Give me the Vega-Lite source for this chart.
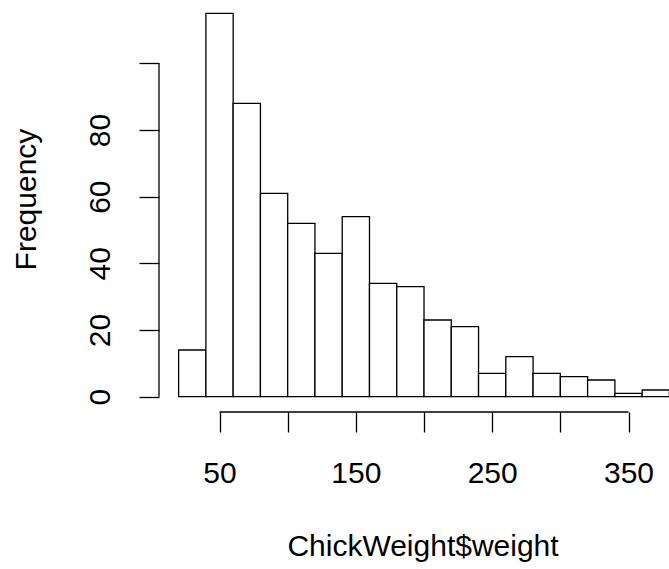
{
  "$schema": "https://vega.github.io/schema/vega-lite/v6.json",
  "width": 510,
  "height": 412,
  "autosize": "none",
  "padding": {"left": 159, "top": 0, "right": 0, "bottom": 157},
  "background": "white",
  "config": {"view": {"stroke": null}, "font": "Liberation Sans"},
  "layer": [
    {
      "data": {"values": [
        {"start": 20, "end": 40, "count": 14},
        {"start": 40, "end": 60, "count": 115},
        {"start": 60, "end": 80, "count": 88},
        {"start": 80, "end": 100, "count": 61},
        {"start": 100, "end": 120, "count": 52},
        {"start": 120, "end": 140, "count": 43},
        {"start": 140, "end": 160, "count": 54},
        {"start": 160, "end": 180, "count": 34},
        {"start": 180, "end": 200, "count": 33},
        {"start": 200, "end": 220, "count": 23},
        {"start": 220, "end": 240, "count": 21},
        {"start": 240, "end": 260, "count": 7},
        {"start": 260, "end": 280, "count": 12},
        {"start": 280, "end": 300, "count": 7},
        {"start": 300, "end": 320, "count": 6},
        {"start": 320, "end": 340, "count": 5},
        {"start": 340, "end": 360, "count": 1},
        {"start": 360, "end": 380, "count": 2}
      ]},
      "mark": {"type": "bar", "fill": "white", "stroke": "black", "strokeWidth": 1.3},
      "encoding": {
        "x": {
          "field": "start", "type": "quantitative",
          "scale": {"domain": [5.6, 379.7], "nice": false, "zero": false},
          "axis": {
            "values": [50, 100, 150, 200, 250, 300, 350],
            "domain": false, "grid": false,
            "tickSize": 20, "tickWidth": 1.3, "tickColor": "black",
            "labelExpr": "(datum.value - 50) % 100 == 0 ? datum.label : ''",
            "labelFont": "Liberation Sans", "labelFontSize": 30, "labelColor": "black",
            "labelBaseline": "alphabetic", "labelPadding": 50,
            "labelFlush": false, "labelOverlap": false,
            "title": "ChickWeight$weight",
            "titleFont": "Liberation Sans", "titleFontSize": 30, "titleFontWeight": "normal", "titleColor": "black",
            "titleX": 263.5, "titleY": 143, "titleAlign": "center", "titleBaseline": "alphabetic"
          }
        },
        "x2": {"field": "end"},
        "y": {
          "field": "count", "type": "quantitative",
          "scale": {"domain": [-4.6, 119], "nice": false, "zero": false},
          "axis": {
            "values": [0, 20, 40, 60, 80, 100],
            "domain": false, "grid": false,
            "tickSize": 20, "tickWidth": 1.3, "tickColor": "black",
            "labelExpr": "datum.value == 100 ? '' : datum.label",
            "labelFont": "Liberation Sans", "labelFontSize": 30, "labelColor": "black",
            "labelAngle": -90, "labelAlign": "center", "labelBaseline": "alphabetic", "labelPadding": 30,
            "labelFlush": false, "labelOverlap": false,
            "title": "Frequency",
            "titleFont": "Liberation Sans", "titleFontSize": 30, "titleFontWeight": "normal", "titleColor": "black",
            "titleAngle": -90, "titleX": -123.5, "titleY": 199, "titleAlign": "center", "titleBaseline": "alphabetic"
          }
        },
        "y2": {"datum": 0}
      }
    },
    {
      "data": {"values": [{}]},
      "mark": {"type": "rule", "stroke": "black", "strokeWidth": 1.3, "clip": false},
      "encoding": {"x": {"datum": 50}, "x2": {"datum": 350}, "y": {"datum": -4.6}}
    },
    {
      "data": {"values": [{}]},
      "mark": {"type": "rule", "stroke": "black", "strokeWidth": 1.3, "clip": false},
      "encoding": {"x": {"datum": 5.6}, "y": {"datum": 0}, "y2": {"datum": 100}}
    }
  ]
}
